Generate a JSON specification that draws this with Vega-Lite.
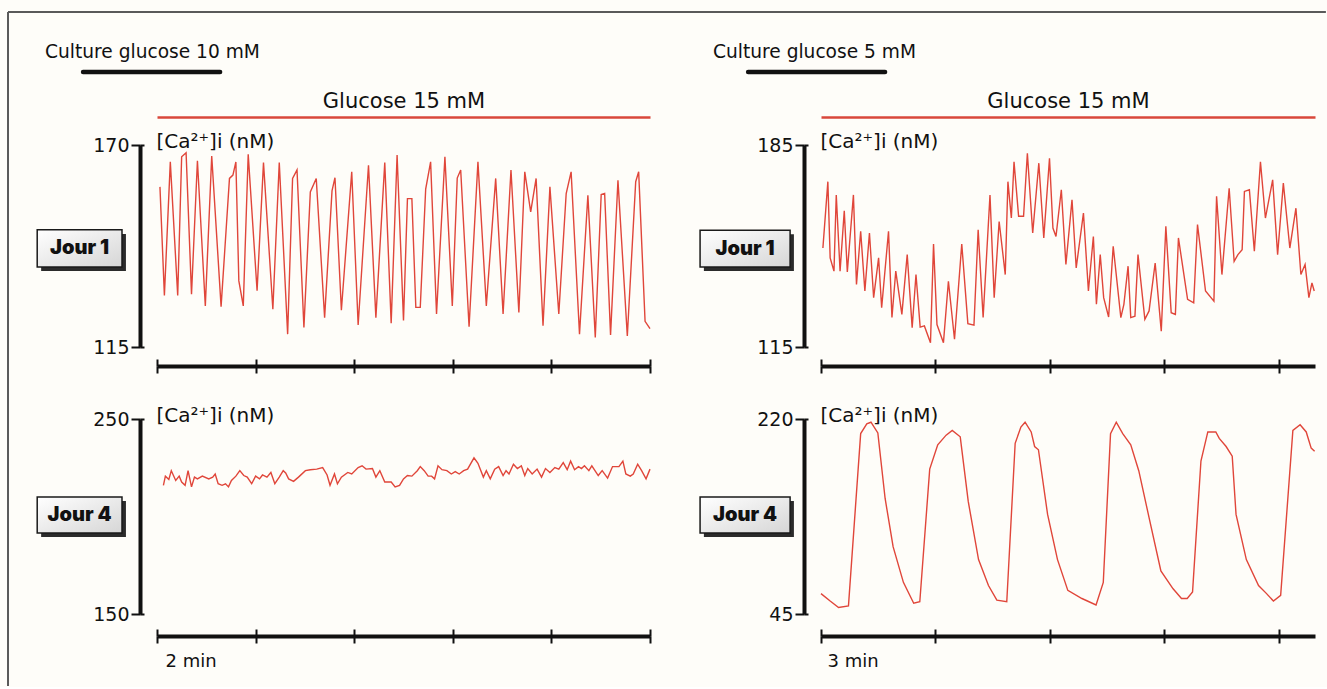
{
  "$schema": "https://vega.github.io/schema/vega-lite/v6.json",
  "background": "#fefdf9",
  "padding": {"left": 7, "top": 11, "right": 0, "bottom": 0},
  "config": {
    "font": "DejaVu Sans",
    "view": {"stroke": null},
    "axis": {"grid": false, "labelFont": "DejaVu Sans", "titleFont": "DejaVu Sans", "labelColor": "#111", "titleColor": "#111", "domainColor": "#111", "tickColor": "#111", "titleFontWeight": "normal", "domainCap": "butt"}
  },
  "columns": 2,
  "spacing": {"row": 72, "column": 171},
  "bounds": "flush",
  "datasets": {
    "tl": [
      {"t":0.06,"v":158.6},{"t":0.15,"v":129},{"t":0.27,"v":165.4},{"t":0.42,"v":129},{"t":0.50,"v":166.8},{"t":0.59,"v":167.9},{"t":0.70,"v":129.4},{"t":0.82,"v":165.7},{"t":0.98,"v":126.2},{"t":1.11,"v":167.0},{"t":1.30,"v":126.0},{"t":1.47,"v":160.9},{"t":1.54,"v":161.8},{"t":1.60,"v":165.4},{"t":1.66,"v":133.0},{"t":1.75,"v":126.2},{"t":1.85,"v":167.5},{"t":2.03,"v":130.3},{"t":2.16,"v":165.2},{"t":2.35,"v":125.3},{"t":2.48,"v":165.2},{"t":2.65,"v":118.5},{"t":2.75,"v":160.9},{"t":2.84,"v":163.2},{"t":2.98,"v":120.3},{"t":3.11,"v":157.2},{"t":3.23,"v":160.9},{"t":3.40,"v":123.0},{"t":3.55,"v":157.5},{"t":3.61,"v":161.1},{"t":3.74,"v":125},{"t":3.95,"v":162.7},{"t":4.08,"v":121},{"t":4.29,"v":164.5},{"t":4.44,"v":123},{"t":4.62,"v":165.2},{"t":4.75,"v":121.5},{"t":4.87,"v":167.3},{"t":5.00,"v":122.2},{"t":5.08,"v":155.4},{"t":5.17,"v":155.4},{"t":5.25,"v":125.8},{"t":5.34,"v":125.8},{"t":5.45,"v":158},{"t":5.55,"v":165.4},{"t":5.67,"v":124},{"t":5.84,"v":166.8},{"t":5.99,"v":126.2},{"t":6.09,"v":161},{"t":6.16,"v":163.2},{"t":6.33,"v":120.5},{"t":6.51,"v":165.4},{"t":6.68,"v":126.2},{"t":6.87,"v":160.9},{"t":7.02,"v":124},{"t":7.18,"v":163.2},{"t":7.34,"v":124.4},{"t":7.46,"v":162.7},{"t":7.58,"v":151.8},{"t":7.69,"v":160.9},{"t":7.83,"v":120.8},{"t":7.97,"v":158.6},{"t":8.15,"v":124},{"t":8.30,"v":156.8},{"t":8.40,"v":162.7},{"t":8.57,"v":118.5},{"t":8.74,"v":156.3},{"t":8.89,"v":117.6},{"t":9.01,"v":156.5},{"t":9.08,"v":156.8},{"t":9.20,"v":118.3},{"t":9.35,"v":160.4},{"t":9.54,"v":118},{"t":9.71,"v":160},{"t":9.77,"v":162.7},{"t":9.90,"v":122},{"t":10.0,"v":120}
    ],
    "tr": [
      {"t":0.05,"v":149.3},{"t":0.18,"v":172.3},{"t":0.24,"v":145.9},{"t":0.34,"v":141.3},{"t":0.40,"v":167.7},{"t":0.50,"v":141.3},{"t":0.61,"v":162.2},{"t":0.69,"v":141.0},{"t":0.85,"v":167.7},{"t":0.93,"v":136.7},{"t":1.04,"v":155.1},{"t":1.15,"v":134.4},{"t":1.27,"v":154.5},{"t":1.38,"v":132.1},{"t":1.51,"v":145.9},{"t":1.59,"v":128.6},{"t":1.77,"v":155.1},{"t":1.86,"v":125.2},{"t":1.96,"v":141.3},{"t":2.12,"v":126.3},{"t":2.26,"v":147.0},{"t":2.39,"v":121.7},{"t":2.49,"v":140.1},{"t":2.60,"v":121.9},{"t":2.71,"v":122.3},{"t":2.87,"v":116.5},{"t":2.95,"v":150.7},{"t":3.04,"v":122.8},{"t":3.21,"v":116.5},{"t":3.34,"v":137.8},{"t":3.50,"v":117.7},{"t":3.69,"v":150.7},{"t":3.85,"v":123.1},{"t":4.01,"v":122.6},{"t":4.12,"v":155.6},{"t":4.25,"v":125.2},{"t":4.43,"v":167.7},{"t":4.54,"v":132.1},{"t":4.67,"v":158.5},{"t":4.83,"v":140.1},{"t":4.90,"v":172.3},{"t":4.99,"v":159.7},{"t":5.06,"v":179.2},{"t":5.18,"v":160.3},{"t":5.31,"v":160.3},{"t":5.41,"v":182.1},{"t":5.55,"v":154.5},{"t":5.71,"v":178.7},{"t":5.84,"v":152.8},{"t":5.99,"v":180.4},{"t":6.08,"v":156.2},{"t":6.16,"v":153.3},{"t":6.30,"v":169.5},{"t":6.42,"v":143.6},{"t":6.58,"v":166.0},{"t":6.69,"v":142.4},{"t":6.88,"v":161.4},{"t":7.01,"v":134.4},{"t":7.14,"v":153.3},{"t":7.22,"v":129.8},{"t":7.32,"v":147.0},{"t":7.41,"v":132.1},{"t":7.54,"v":125.4},{"t":7.66,"v":149.9},{"t":7.86,"v":125.2},{"t":7.94,"v":129.8},{"t":8.05,"v":143.0},{"t":8.12,"v":125.2},{"t":8.23,"v":125.7},{"t":8.31,"v":147.0},{"t":8.49,"v":124.6},{"t":8.60,"v":127.5},{"t":8.76,"v":144.1},{"t":8.92,"v":120.5},{"t":9.04,"v":156.8},{"t":9.18,"v":126.9},{"t":9.29,"v":126.3},{"t":9.37,"v":152.8},{"t":9.61,"v":131.5},{"t":9.77,"v":130.3},{"t":9.87,"v":157.4},{"t":10.08,"v":134.4},{"t":10.30,"v":130.9},{"t":10.37,"v":167.2},{"t":10.51,"v":140.1},{"t":10.70,"v":170.0},{"t":10.83,"v":144.7},{"t":10.93,"v":147.0},{"t":11.04,"v":148.7},{"t":11.10,"v":168.9},{"t":11.23,"v":169.5},{"t":11.36,"v":148.2},{"t":11.52,"v":179.2},{"t":11.65,"v":159.7},{"t":11.84,"v":172.9},{"t":11.97,"v":147.0},{"t":12.12,"v":171.8},{"t":12.29,"v":149.3},{"t":12.45,"v":163.1},{"t":12.58,"v":140.1},{"t":12.69,"v":143.6},{"t":12.79,"v":132.1},{"t":12.87,"v":137.2},{"t":12.93,"v":134.4}
    ],
    "bl": [
      {"t":0.13,"v":216.0},{"t":0.17,"v":220.7},{"t":0.24,"v":219.0},{"t":0.29,"v":223.5},{"t":0.38,"v":218.5},{"t":0.45,"v":220.7},{"t":0.50,"v":217.7},{"t":0.57,"v":216.0},{"t":0.63,"v":223.5},{"t":0.70,"v":215.2},{"t":0.76,"v":220.2},{"t":0.82,"v":219.3},{"t":0.92,"v":220.7},{"t":1.05,"v":219.3},{"t":1.13,"v":220.2},{"t":1.18,"v":221.8},{"t":1.24,"v":216.8},{"t":1.32,"v":216.0},{"t":1.39,"v":216.8},{"t":1.45,"v":215.2},{"t":1.51,"v":218.5},{"t":1.60,"v":220.7},{"t":1.68,"v":223.5},{"t":1.76,"v":221.0},{"t":1.83,"v":220.2},{"t":1.92,"v":216.8},{"t":2.00,"v":220.7},{"t":2.08,"v":219.3},{"t":2.14,"v":221.3},{"t":2.23,"v":220.2},{"t":2.31,"v":222.6},{"t":2.39,"v":216.8},{"t":2.48,"v":220.2},{"t":2.56,"v":223.5},{"t":2.61,"v":222.3},{"t":2.67,"v":219.3},{"t":2.77,"v":218.0},{"t":2.87,"v":220.2},{"t":3.01,"v":223.5},{"t":3.11,"v":224.0},{"t":3.24,"v":224.3},{"t":3.36,"v":225.1},{"t":3.45,"v":221.3},{"t":3.51,"v":216.0},{"t":3.60,"v":221.8},{"t":3.66,"v":216.8},{"t":3.74,"v":220.2},{"t":3.87,"v":222.6},{"t":3.95,"v":221.8},{"t":4.08,"v":225.1},{"t":4.16,"v":226.0},{"t":4.24,"v":224.3},{"t":4.37,"v":224.6},{"t":4.44,"v":220.2},{"t":4.52,"v":223.5},{"t":4.62,"v":217.7},{"t":4.75,"v":217.7},{"t":4.83,"v":215.2},{"t":4.92,"v":216.0},{"t":5.00,"v":219.3},{"t":5.08,"v":221.0},{"t":5.17,"v":220.7},{"t":5.28,"v":223.5},{"t":5.34,"v":225.6},{"t":5.42,"v":223.5},{"t":5.50,"v":220.7},{"t":5.57,"v":220.7},{"t":5.63,"v":219.3},{"t":5.70,"v":226.0},{"t":5.78,"v":224.0},{"t":5.88,"v":223.5},{"t":5.97,"v":221.8},{"t":6.05,"v":223.0},{"t":6.13,"v":221.8},{"t":6.22,"v":223.5},{"t":6.30,"v":224.3},{"t":6.43,"v":230.1},{"t":6.51,"v":227.3},{"t":6.62,"v":220.2},{"t":6.68,"v":223.5},{"t":6.76,"v":219.3},{"t":6.85,"v":224.3},{"t":6.93,"v":225.6},{"t":7.02,"v":221.0},{"t":7.08,"v":223.5},{"t":7.14,"v":221.8},{"t":7.23,"v":226.8},{"t":7.31,"v":224.6},{"t":7.39,"v":226.0},{"t":7.46,"v":221.0},{"t":7.52,"v":224.6},{"t":7.61,"v":221.8},{"t":7.71,"v":224.3},{"t":7.80,"v":220.2},{"t":7.88,"v":224.6},{"t":7.97,"v":222.6},{"t":8.07,"v":225.1},{"t":8.15,"v":224.3},{"t":8.24,"v":227.6},{"t":8.32,"v":224.0},{"t":8.39,"v":228.4},{"t":8.47,"v":224.0},{"t":8.55,"v":225.6},{"t":8.61,"v":224.6},{"t":8.67,"v":226.0},{"t":8.76,"v":223.5},{"t":8.82,"v":226.0},{"t":8.95,"v":221.0},{"t":9.03,"v":223.5},{"t":9.14,"v":219.7},{"t":9.24,"v":225.6},{"t":9.37,"v":225.6},{"t":9.45,"v":228.4},{"t":9.51,"v":221.8},{"t":9.60,"v":220.7},{"t":9.66,"v":221.8},{"t":9.75,"v":226.8},{"t":9.83,"v":223.5},{"t":9.92,"v":219.3},{"t":10.0,"v":224.3}
    ],
    "br": [
      {"t":0.0,"v":63.3},{"t":0.24,"v":56.6},{"t":0.46,"v":50.8},{"t":0.72,"v":52.3},{"t":1.04,"v":206.9},{"t":1.20,"v":215.6},{"t":1.31,"v":217.1},{"t":1.49,"v":207.5},{"t":1.68,"v":148.9},{"t":1.89,"v":105.4},{"t":2.16,"v":73.4},{"t":2.43,"v":54.6},{"t":2.59,"v":56.0},{"t":2.85,"v":175.0},{"t":3.06,"v":196.8},{"t":3.28,"v":205.5},{"t":3.44,"v":209.8},{"t":3.65,"v":204.0},{"t":3.86,"v":146.0},{"t":4.13,"v":93.8},{"t":4.39,"v":70.6},{"t":4.61,"v":57.5},{"t":4.87,"v":56.0},{"t":5.09,"v":198.2},{"t":5.24,"v":212.7},{"t":5.35,"v":217.1},{"t":5.51,"v":208.4},{"t":5.60,"v":195.3},{"t":5.70,"v":192.4},{"t":5.94,"v":134.4},{"t":6.20,"v":93.8},{"t":6.47,"v":66.2},{"t":6.84,"v":58.9},{"t":7.21,"v":53.1},{"t":7.40,"v":73.4},{"t":7.59,"v":206.9},{"t":7.74,"v":217.1},{"t":7.91,"v":206.9},{"t":8.12,"v":196.8},{"t":8.33,"v":173.6},{"t":8.60,"v":131.5},{"t":8.91,"v":83.6},{"t":9.23,"v":67.6},{"t":9.45,"v":58.9},{"t":9.60,"v":58.9},{"t":9.74,"v":64.7},{"t":9.96,"v":182.3},{"t":10.14,"v":208.4},{"t":10.35,"v":208.4},{"t":10.44,"v":202.6},{"t":10.62,"v":195.3},{"t":10.78,"v":186.6},{"t":10.88,"v":134.4},{"t":11.15,"v":93.8},{"t":11.47,"v":70.6},{"t":11.68,"v":63.3},{"t":11.86,"v":56.6},{"t":12.05,"v":61.8},{"t":12.37,"v":209.8},{"t":12.56,"v":214.8},{"t":12.72,"v":208.4},{"t":12.85,"v":193.9},{"t":12.94,"v":191.0}
    ]
  },
  "concat": [
    {
      "width": 493, "height": 202,
      "resolve": {"axis": {"x": "independent", "y": "independent"}},
      "layer": [
        {
          "data": {"values": [{"t": -3.022, "t2": 23.71, "v": 206.21, "v2": 206.21}, {"t": -3.022, "t2": -3.022, "v": 206.21, "v2": 22.7}]},
          "mark": {"type": "rule", "color": "#5a5a5a", "strokeWidth": 2},
          "encoding": {
            "x": {"field": "t", "type": "quantitative", "scale": {"domain": [0, 10], "nice": false, "zero": false}, "axis": null},
            "x2": {"field": "t2"},
            "y": {"field": "v", "type": "quantitative", "scale": {"domain": [115, 170], "nice": false, "zero": false}, "axis": null},
            "y2": {"field": "v2"}
          }
        },
        {
          "data": {"name": "tl"},
          "mark": {"type": "line", "color": "#e0463a", "strokeWidth": 1.4},
          "encoding": {
            "x": {"field": "t", "type": "quantitative", "scale": {"domain": [0, 10], "nice": false, "zero": false},
                  "axis": {"orient": "bottom", "offset": 19, "values": [0, 2, 4, 6, 8, 10], "labels": false, "title": null, "domainWidth": 4, "tickWidth": 2, "tickSize": 7}},
            "y": {"field": "v", "type": "quantitative", "scale": {"domain": [115, 170], "nice": false, "zero": false},
                  "axis": {"orient": "left", "offset": 17, "values": [115, 170], "domainWidth": 4, "tickWidth": 2, "tickSize": 9, "labelFontSize": 19, "labelPadding": 2, "title": "[Ca²⁺]i (nM)", "titleAngle": 0, "titleAlign": "left", "titleBaseline": "alphabetic", "titleX": 16, "titleY": 2, "titleFontSize": 20}}
          }
        },
        {
          "data": {"values": [{"t": -2.35, "t2": -0.63, "v": 145.8, "v2": 135.7}]},
          "mark": {"type": "rect", "fill": "#2b2b2b"},
          "encoding": {
            "x": {"field": "t", "type": "quantitative", "scale": {"domain": [0, 10], "nice": false, "zero": false},
                  "axis": {"orient": "bottom", "offset": 19, "values": [0, 2, 4, 6, 8, 10], "labels": false, "title": null, "domain": false, "tickWidth": 2, "tickSize": -7}},
            "x2": {"field": "t2"},
            "y": {"field": "v", "type": "quantitative", "scale": {"domain": [115, 170], "nice": false, "zero": false},
                  "axis": {"orient": "left", "offset": 17, "values": [115, 170], "labels": false, "title": null, "domain": false, "tickWidth": 2, "tickSize": -4}},
            "y2": {"field": "v2"}
          }
        },
        {
          "data": {"values": [{"t": -2.43, "t2": -0.71, "v": 146.9, "v2": 136.8}]},
          "mark": {"type": "rect", "stroke": "#1a1a1a", "strokeWidth": 1.5, "fill": {"gradient": "linear", "x1": 0, "y1": 0, "x2": 1, "y2": 1, "stops": [{"offset": 0, "color": "#ffffff"}, {"offset": 1, "color": "#d6d6d6"}]}},
          "encoding": {
            "x": {"field": "t", "type": "quantitative", "scale": {"domain": [0, 10], "nice": false, "zero": false},
                  "axis": {"orient": "top", "offset": 28, "values": [0, 10], "ticks": false, "labels": false, "domainColor": "#d9473b", "domainWidth": 2.5, "title": "Glucose 15 mM", "titleFontSize": 21, "titleX": 246.5, "titleY": -10, "titleAlign": "center", "titleBaseline": "alphabetic"}},
            "x2": {"field": "t2"},
            "y": {"field": "v", "type": "quantitative", "scale": {"domain": [115, 170], "nice": false, "zero": false}, "axis": null},
            "y2": {"field": "v2"}
          }
        },
        {
          "data": {"values": [{"t": -1.57, "v": 141.85, "label": "Jour 1"}]},
          "mark": {"type": "text", "font": "Inter", "fontWeight": 900, "fontSize": 20, "align": "center", "baseline": "middle", "color": "#111"},
          "encoding": {
            "x": {"field": "t", "type": "quantitative", "scale": {"domain": [0, 10], "nice": false, "zero": false}, "axis": null},
            "y": {"field": "v", "type": "quantitative", "scale": {"domain": [115, 170], "nice": false, "zero": false}, "axis": null},
            "text": {"field": "label"}
          }
        },
        {
          "data": {"values": [{"t": -2.27, "v": 193.7, "label": "Culture glucose 10 mM"}]},
          "mark": {"type": "text", "fontSize": 18.6, "align": "left", "baseline": "alphabetic", "color": "#111"},
          "encoding": {
            "x": {"field": "t", "type": "quantitative", "scale": {"domain": [0, 10], "nice": false, "zero": false}, "axis": null},
            "y": {"field": "v", "type": "quantitative", "scale": {"domain": [115, 170], "nice": false, "zero": false}, "axis": null},
            "text": {"field": "label"}
          }
        },
        {
          "data": {"values": [{"t": -1.5, "t2": 1.28, "v": 189.9}]},
          "mark": {"type": "rule", "color": "#111", "strokeWidth": 4.5, "strokeCap": "round"},
          "encoding": {
            "x": {"field": "t", "type": "quantitative", "scale": {"domain": [0, 10], "nice": false, "zero": false}, "axis": null},
            "x2": {"field": "t2"},
            "y": {"field": "v", "type": "quantitative", "scale": {"domain": [115, 170], "nice": false, "zero": false}, "axis": null}
          }
        }
      ]
    },
    {
      "width": 494, "height": 202,
      "resolve": {"axis": {"x": "independent", "y": "independent"}},
      "layer": [
        {
          "data": {"name": "tr"},
          "mark": {"type": "line", "color": "#e0463a", "strokeWidth": 1.4},
          "encoding": {
            "x": {"field": "t", "type": "quantitative", "scale": {"domain": [0, 12.95], "nice": false, "zero": false},
                  "axis": {"orient": "bottom", "offset": 19, "values": [0, 3, 6, 9, 12], "labels": false, "title": null, "domainWidth": 4, "tickWidth": 2, "tickSize": 7}},
            "y": {"field": "v", "type": "quantitative", "scale": {"domain": [115, 185], "nice": false, "zero": false},
                  "axis": {"orient": "left", "offset": 17, "values": [115, 185], "domainWidth": 4, "tickWidth": 2, "tickSize": 9, "labelFontSize": 19, "labelPadding": 2, "title": "[Ca²⁺]i (nM)", "titleAngle": 0, "titleAlign": "left", "titleBaseline": "alphabetic", "titleX": 16, "titleY": 2, "titleFontSize": 20}}
          }
        },
        {
          "data": {"values": [{"t": -3.07, "t2": -0.71, "v": 154.1, "v2": 141.3}]},
          "mark": {"type": "rect", "fill": "#2b2b2b"},
          "encoding": {
            "x": {"field": "t", "type": "quantitative", "scale": {"domain": [0, 12.95], "nice": false, "zero": false},
                  "axis": {"orient": "bottom", "offset": 19, "values": [0, 3, 6, 9, 12], "labels": false, "title": null, "domain": false, "tickWidth": 2, "tickSize": -7}},
            "x2": {"field": "t2"},
            "y": {"field": "v", "type": "quantitative", "scale": {"domain": [115, 185], "nice": false, "zero": false},
                  "axis": {"orient": "left", "offset": 17, "values": [115, 185], "labels": false, "title": null, "domain": false, "tickWidth": 2, "tickSize": -4}},
            "y2": {"field": "v2"}
          }
        },
        {
          "data": {"values": [{"t": -3.17, "t2": -0.81, "v": 155.5, "v2": 142.7}]},
          "mark": {"type": "rect", "stroke": "#1a1a1a", "strokeWidth": 1.5, "fill": {"gradient": "linear", "x1": 0, "y1": 0, "x2": 1, "y2": 1, "stops": [{"offset": 0, "color": "#ffffff"}, {"offset": 1, "color": "#d6d6d6"}]}},
          "encoding": {
            "x": {"field": "t", "type": "quantitative", "scale": {"domain": [0, 12.95], "nice": false, "zero": false},
                  "axis": {"orient": "top", "offset": 28, "values": [0, 12.95], "ticks": false, "labels": false, "domainColor": "#d9473b", "domainWidth": 2.5, "title": "Glucose 15 mM", "titleFontSize": 21, "titleX": 247, "titleY": -10, "titleAlign": "center", "titleBaseline": "alphabetic"}},
            "x2": {"field": "t2"},
            "y": {"field": "v", "type": "quantitative", "scale": {"domain": [115, 185], "nice": false, "zero": false}, "axis": null},
            "y2": {"field": "v2"}
          }
        },
        {
          "data": {"values": [{"t": -1.99, "v": 149.1, "label": "Jour 1"}]},
          "mark": {"type": "text", "font": "Inter", "fontWeight": 900, "fontSize": 20, "align": "center", "baseline": "middle", "color": "#111"},
          "encoding": {
            "x": {"field": "t", "type": "quantitative", "scale": {"domain": [0, 12.95], "nice": false, "zero": false}, "axis": null},
            "y": {"field": "v", "type": "quantitative", "scale": {"domain": [115, 185], "nice": false, "zero": false}, "axis": null},
            "text": {"field": "label"}
          }
        },
        {
          "data": {"values": [{"t": -2.83, "v": 215.1, "label": "Culture glucose 5 mM"}]},
          "mark": {"type": "text", "fontSize": 18.6, "align": "left", "baseline": "alphabetic", "color": "#111"},
          "encoding": {
            "x": {"field": "t", "type": "quantitative", "scale": {"domain": [0, 12.95], "nice": false, "zero": false}, "axis": null},
            "y": {"field": "v", "type": "quantitative", "scale": {"domain": [115, 185], "nice": false, "zero": false}, "axis": null},
            "text": {"field": "label"}
          }
        },
        {
          "data": {"values": [{"t": -1.91, "t2": 1.68, "v": 210.3}]},
          "mark": {"type": "rule", "color": "#111", "strokeWidth": 4.5, "strokeCap": "round"},
          "encoding": {
            "x": {"field": "t", "type": "quantitative", "scale": {"domain": [0, 12.95], "nice": false, "zero": false}, "axis": null},
            "x2": {"field": "t2"},
            "y": {"field": "v", "type": "quantitative", "scale": {"domain": [115, 185], "nice": false, "zero": false}, "axis": null}
          }
        }
      ]
    },
    {
      "width": 493, "height": 195,
      "resolve": {"axis": {"x": "independent", "y": "independent"}},
      "layer": [
        {
          "data": {"name": "bl"},
          "mark": {"type": "line", "color": "#e0463a", "strokeWidth": 1.4},
          "encoding": {
            "x": {"field": "t", "type": "quantitative", "scale": {"domain": [0, 10], "nice": false, "zero": false},
                  "axis": {"orient": "bottom", "offset": 22, "values": [0, 2, 4, 6, 8, 10], "labels": false, "domainWidth": 4, "tickWidth": 2, "tickSize": 7, "title": "2 min", "titleFontSize": 18, "titleX": 8, "titleY": 30, "titleAlign": "left", "titleBaseline": "alphabetic"}},
            "y": {"field": "v", "type": "quantitative", "scale": {"domain": [150, 250], "nice": false, "zero": false},
                  "axis": {"orient": "left", "offset": 17, "values": [150, 250], "domainWidth": 4, "tickWidth": 2, "tickSize": 9, "labelFontSize": 19, "labelPadding": 2, "title": "[Ca²⁺]i (nM)", "titleAngle": 0, "titleAlign": "left", "titleBaseline": "alphabetic", "titleX": 16, "titleY": 2, "titleFontSize": 20}}
          }
        },
        {
          "data": {"values": [{"t": -2.35, "t2": -0.63, "v": 207.9, "v2": 189.5}]},
          "mark": {"type": "rect", "fill": "#2b2b2b"},
          "encoding": {
            "x": {"field": "t", "type": "quantitative", "scale": {"domain": [0, 10], "nice": false, "zero": false},
                  "axis": {"orient": "bottom", "offset": 22, "values": [0, 2, 4, 6, 8, 10], "labels": false, "title": null, "domain": false, "tickWidth": 2, "tickSize": -7}},
            "x2": {"field": "t2"},
            "y": {"field": "v", "type": "quantitative", "scale": {"domain": [150, 250], "nice": false, "zero": false},
                  "axis": {"orient": "left", "offset": 17, "values": [150, 250], "labels": false, "title": null, "domain": false, "tickWidth": 2, "tickSize": -4}},
            "y2": {"field": "v2"}
          }
        },
        {
          "data": {"values": [{"t": -2.43, "t2": -0.71, "v": 210.0, "v2": 191.5}]},
          "mark": {"type": "rect", "stroke": "#1a1a1a", "strokeWidth": 1.5, "fill": {"gradient": "linear", "x1": 0, "y1": 0, "x2": 1, "y2": 1, "stops": [{"offset": 0, "color": "#ffffff"}, {"offset": 1, "color": "#d6d6d6"}]}},
          "encoding": {
            "x": {"field": "t", "type": "quantitative", "scale": {"domain": [0, 10], "nice": false, "zero": false}, "axis": null},
            "x2": {"field": "t2"},
            "y": {"field": "v", "type": "quantitative", "scale": {"domain": [150, 250], "nice": false, "zero": false}, "axis": null},
            "y2": {"field": "v2"}
          }
        },
        {
          "data": {"values": [{"t": -1.57, "v": 200.75, "label": "Jour 4"}]},
          "mark": {"type": "text", "font": "Inter", "fontWeight": 900, "fontSize": 20, "align": "center", "baseline": "middle", "color": "#111"},
          "encoding": {
            "x": {"field": "t", "type": "quantitative", "scale": {"domain": [0, 10], "nice": false, "zero": false}, "axis": null},
            "y": {"field": "v", "type": "quantitative", "scale": {"domain": [150, 250], "nice": false, "zero": false}, "axis": null},
            "text": {"field": "label"}
          }
        }
      ]
    },
    {
      "width": 494, "height": 195,
      "resolve": {"axis": {"x": "independent", "y": "independent"}},
      "layer": [
        {
          "data": {"name": "br"},
          "mark": {"type": "line", "color": "#e0463a", "strokeWidth": 1.4},
          "encoding": {
            "x": {"field": "t", "type": "quantitative", "scale": {"domain": [0, 12.95], "nice": false, "zero": false},
                  "axis": {"orient": "bottom", "offset": 22, "values": [0, 3, 6, 9, 12], "labels": false, "domainWidth": 4, "tickWidth": 2, "tickSize": 7, "title": "3 min", "titleFontSize": 18, "titleX": 6, "titleY": 30, "titleAlign": "left", "titleBaseline": "alphabetic"}},
            "y": {"field": "v", "type": "quantitative", "scale": {"domain": [45, 220], "nice": false, "zero": false},
                  "axis": {"orient": "left", "offset": 17, "values": [45, 220], "domainWidth": 4, "tickWidth": 2, "tickSize": 9, "labelFontSize": 19, "labelPadding": 2, "title": "[Ca²⁺]i (nM)", "titleAngle": 0, "titleAlign": "left", "titleBaseline": "alphabetic", "titleX": 16, "titleY": 2, "titleFontSize": 20}}
          }
        },
        {
          "data": {"values": [{"t": -3.07, "t2": -0.71, "v": 146.4, "v2": 114.1}]},
          "mark": {"type": "rect", "fill": "#2b2b2b"},
          "encoding": {
            "x": {"field": "t", "type": "quantitative", "scale": {"domain": [0, 12.95], "nice": false, "zero": false},
                  "axis": {"orient": "bottom", "offset": 22, "values": [0, 3, 6, 9, 12], "labels": false, "title": null, "domain": false, "tickWidth": 2, "tickSize": -7}},
            "x2": {"field": "t2"},
            "y": {"field": "v", "type": "quantitative", "scale": {"domain": [45, 220], "nice": false, "zero": false},
                  "axis": {"orient": "left", "offset": 17, "values": [45, 220], "labels": false, "title": null, "domain": false, "tickWidth": 2, "tickSize": -4}},
            "y2": {"field": "v2"}
          }
        },
        {
          "data": {"values": [{"t": -3.17, "t2": -0.81, "v": 150.0, "v2": 117.7}]},
          "mark": {"type": "rect", "stroke": "#1a1a1a", "strokeWidth": 1.5, "fill": {"gradient": "linear", "x1": 0, "y1": 0, "x2": 1, "y2": 1, "stops": [{"offset": 0, "color": "#ffffff"}, {"offset": 1, "color": "#d6d6d6"}]}},
          "encoding": {
            "x": {"field": "t", "type": "quantitative", "scale": {"domain": [0, 12.95], "nice": false, "zero": false}, "axis": null},
            "x2": {"field": "t2"},
            "y": {"field": "v", "type": "quantitative", "scale": {"domain": [45, 220], "nice": false, "zero": false}, "axis": null},
            "y2": {"field": "v2"}
          }
        },
        {
          "data": {"values": [{"t": -1.99, "v": 133.85, "label": "Jour 4"}]},
          "mark": {"type": "text", "font": "Inter", "fontWeight": 900, "fontSize": 20, "align": "center", "baseline": "middle", "color": "#111"},
          "encoding": {
            "x": {"field": "t", "type": "quantitative", "scale": {"domain": [0, 12.95], "nice": false, "zero": false}, "axis": null},
            "y": {"field": "v", "type": "quantitative", "scale": {"domain": [45, 220], "nice": false, "zero": false}, "axis": null},
            "text": {"field": "label"}
          }
        }
      ]
    }
  ]
}
